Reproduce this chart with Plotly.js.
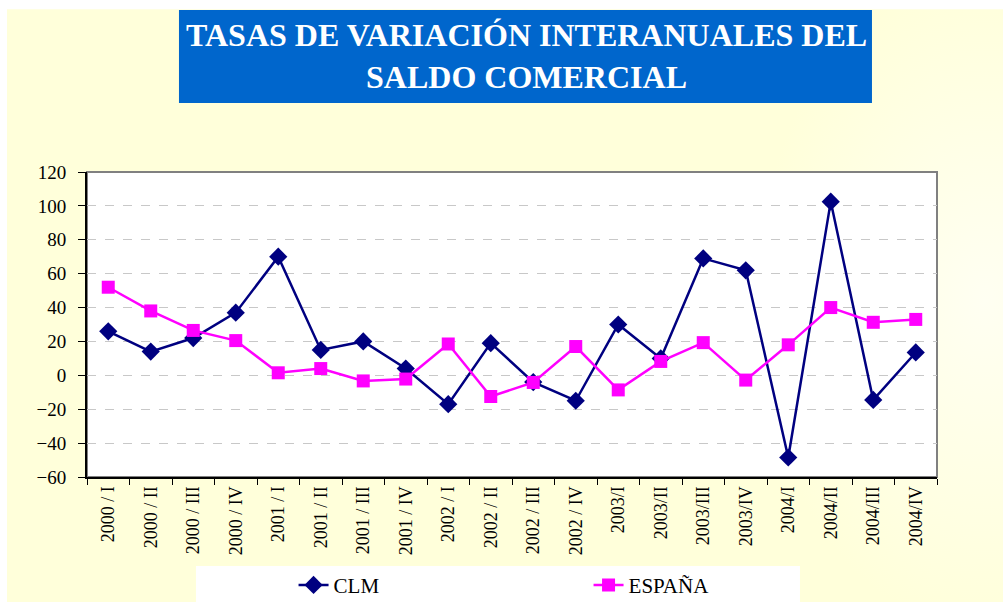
<!DOCTYPE html>
<html>
<head>
<meta charset="utf-8">
<script src="https://cdn.plot.ly/plotly-3.0.1.min.js"></script>
<style>
html,body{margin:0;padding:0;background:#fff;}
#chart{width:1003px;height:602px;background:radial-gradient(ellipse 230px 330px at 985px 300px, #FFFFF2 0%, #FFFFDA 100%);}
</style>
</head>
<body>
<div id="chart"></div>
<script>
var categories = ["2000 / I","2000 / II","2000 / III","2000 / IV","2001 / I","2001 / II","2001 / III","2001 / IV","2002 / I","2002 / II","2002 / III","2002 / IV","2003/I","2003/II","2003/III","2003/IV","2004/I","2004/II","2004/III","2004/IV"];
var clm = [26, 14, 22, 37, 70, 15, 20, 4, -17, 19, -4, -15, 30, 10, 69, 62, -48.5, 102.5, -14.5, 13.5];
var espana = [52, 38, 26.5, 20.5, 1.5, 4, -3.3, -2.2, 18.5, -12.5, -4.2, 17, -8.6, 8.2, 19.3, -2.8, 18, 40, 31.3, 33];
var yTicks = [-60, -40, -20, 0, 20, 40, 60, 80, 100, 120];
var titleText = "TASAS DE VARIACIÓN INTERANUALES DEL<br>SALDO COMERCIAL";

var serif = "'Liberation Serif', 'Times New Roman', Times, serif";

var traces = [
  {x: categories, y: clm, name: "CLM", type: "scatter", mode: "lines+markers",
   line: {color: "#000080", width: 2.5},
   marker: {symbol: "diamond", size: 14, color: "#000080"}},
  {x: categories, y: espana, name: "ESPAÑA", type: "scatter", mode: "lines+markers",
   line: {color: "#FF00FF", width: 2.5},
   marker: {symbol: "square", size: 13, color: "#FF00FF"}}
];

var layout = {
  width: 1003, height: 602,
  margin: {l: 87, r: 66, t: 172, b: 125, pad: 0, autoexpand: false},
  paper_bgcolor: "rgba(0,0,0,0)",
  plot_bgcolor: "#FFFFFF",
  showlegend: true,
  font: {family: serif, color: "#000"},
  xaxis: {
    type: "category",
    range: [-0.5, 19.5],
    autorange: false,
    tickangle: -90,
    tickson: "boundaries",
    ticks: "outside", ticklen: 6, tickcolor: "#000", tickwidth: 1,
    showgrid: false,
    showline: true, linecolor: "#000", linewidth: 2,
    tickfont: {family: serif, size: 18, color: "#000"},
    automargin: false,
    fixedrange: true
  },
  yaxis: {
    range: [-60, 120],
    autorange: false,
    tickvals: yTicks,
    ticks: "outside", ticklen: 7, tickcolor: "#000", tickwidth: 1,
    showgrid: true, gridcolor: "#C8C8C8", griddash: "dash", gridwidth: 1,
    zeroline: false,
    showline: true, linecolor: "#000", linewidth: 2,
    tickfont: {family: serif, size: 19, color: "#000"},
    ticklabelstandoff: 8,
    automargin: false,
    fixedrange: true
  },
  legend: {
    orientation: "h",
    x: 0.243, xanchor: "left",
    y: -0.355, yanchor: "middle",
    bgcolor: "rgba(0,0,0,0)",
    font: {family: serif, size: 21, color: "#000"},
    entrywidth: 250, entrywidthmode: "pixels"
  },
  shapes: [
    {type: "rect", xref: "paper", yref: "paper", x0: -0.11, x1: 1.1, y0: 1.534, y1: 1.6, fillcolor: "#FFFFFF", line: {width: 0}, layer: "below"},
    {type: "rect", xref: "paper", yref: "paper", x0: -0.11, x1: -0.0941, y0: -0.5, y1: 1.6, fillcolor: "#FFFFFF", line: {width: 0}, layer: "below"},
    {type: "rect", xref: "paper", yref: "paper", x0: 0.1282, x1: 0.8388, y0: -0.41, y1: -0.292, fillcolor: "#FFFFFF", line: {width: 0}, layer: "below"},
    {type: "rect", xref: "paper", yref: "paper", x0: 0.1082, x1: 0.9235, y0: 1.2262, y1: 1.5311, fillcolor: "#0066CC", line: {width: 0}, layer: "below"},
    {type: "rect", xref: "paper", yref: "paper", x0: 0, x1: 1, y0: 0, y1: 1, line: {color: "#808080", width: 2}, layer: "between"}
  ],
  annotations: [
    {xref: "paper", yref: "paper", x: 0.5165, y: 1.3787, xanchor: "center", yanchor: "middle",
     text: "<b>" + titleText + "</b>", showarrow: false, align: "center",
     font: {family: serif, size: 32, color: "#FFFFFF"}}
  ]
};

Plotly.newPlot("chart", traces, layout, {displayModeBar: false, staticPlot: true});
</script>
</body>
</html>
